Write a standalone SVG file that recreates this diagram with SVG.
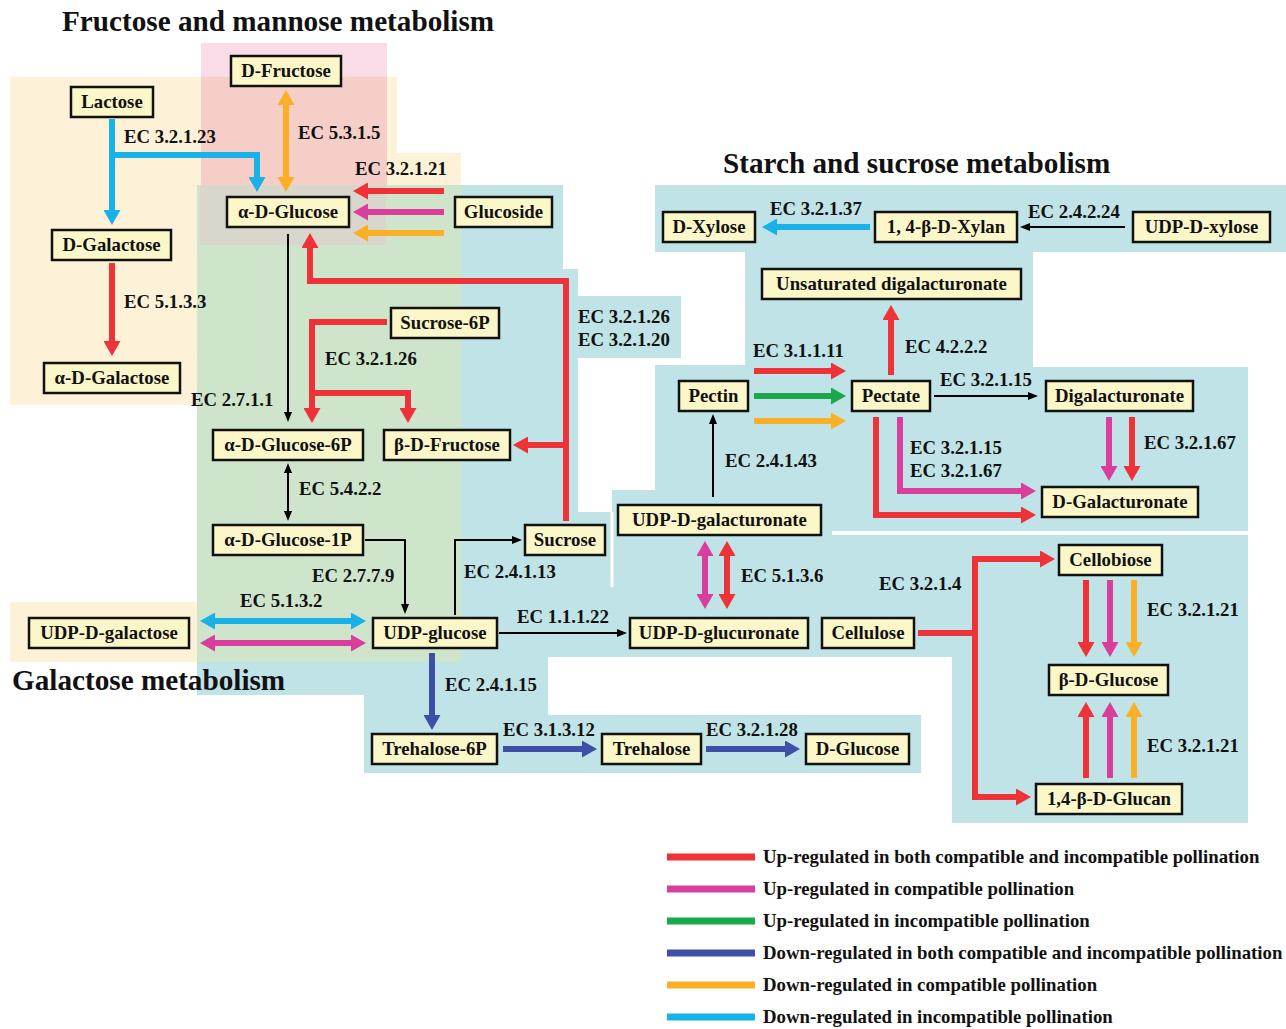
<svg xmlns="http://www.w3.org/2000/svg" width="1286" height="1029" viewBox="0 0 1286 1029">
<style>
text{font-family:"Liberation Serif","Times New Roman",serif;font-weight:bold;font-size:18.8px;fill:#111}
.node rect{fill:#FCF7C9;stroke:#111;stroke-width:2.5}
.node text{text-anchor:middle}
.title{font-size:29.2px}
.t{fill:none;stroke-width:6}
.k{fill:none;stroke:#000;stroke-width:2}
.r{stroke:#EE3238}.m{stroke:#D93E9D}.g{stroke:#1BA74B}.b{stroke:#3E4FA7}.o{stroke:#FAAF26}.c{stroke:#19B2E8}
.leg{stroke-width:7}
</style>
<defs>
<marker id="aR" viewBox="0 0 15 17" refX="3" refY="8.5" markerWidth="15" markerHeight="17" markerUnits="userSpaceOnUse" orient="auto-start-reverse"><path d="M0,0 L15,8.5 L0,17 Z" fill="#EE3238"/></marker>
<marker id="aM" viewBox="0 0 15 17" refX="3" refY="8.5" markerWidth="15" markerHeight="17" markerUnits="userSpaceOnUse" orient="auto-start-reverse"><path d="M0,0 L15,8.5 L0,17 Z" fill="#D93E9D"/></marker>
<marker id="aG" viewBox="0 0 15 17" refX="3" refY="8.5" markerWidth="15" markerHeight="17" markerUnits="userSpaceOnUse" orient="auto-start-reverse"><path d="M0,0 L15,8.5 L0,17 Z" fill="#1BA74B"/></marker>
<marker id="aB" viewBox="0 0 15 17" refX="3" refY="8.5" markerWidth="15" markerHeight="17" markerUnits="userSpaceOnUse" orient="auto-start-reverse"><path d="M0,0 L15,8.5 L0,17 Z" fill="#3E4FA7"/></marker>
<marker id="aO" viewBox="0 0 15 17" refX="3" refY="8.5" markerWidth="15" markerHeight="17" markerUnits="userSpaceOnUse" orient="auto-start-reverse"><path d="M0,0 L15,8.5 L0,17 Z" fill="#FAAF26"/></marker>
<marker id="aC" viewBox="0 0 15 17" refX="3" refY="8.5" markerWidth="15" markerHeight="17" markerUnits="userSpaceOnUse" orient="auto-start-reverse"><path d="M0,0 L15,8.5 L0,17 Z" fill="#19B2E8"/></marker>
<marker id="aK" viewBox="0 0 10 8" refX="2" refY="4" markerWidth="10" markerHeight="8" markerUnits="userSpaceOnUse" orient="auto-start-reverse"><path d="M0,0 L10,4 L0,8 Z" fill="#000"/></marker>
</defs>
<rect width="1286" height="1029" fill="#fff"/>
<g id="backgrounds">
<polygon points="10,77 397,77 397,153 461,153 461,662 10,662 10,602 197,602 197,405 10,405" fill="#FDF1D7"/>
<rect x="201" y="43" width="186" height="202" fill="#F9DCE8"/>
<polygon points="197,185 563,185 563,269 578,269 578,296 681,296 681,358 578,358 578,512 612,512 612,490 655,490 655,365 745,365 745,252 655,252 655,185 1286,185 1286,252 1033,252 1033,367 1248,367 1248,823 952,823 952,657 548,657 548,715 921,715 921,773 364,773 364,695 197,695" fill="#BFE3E6"/>
<rect x="201" y="77" width="186" height="108" fill="#F6CEC8"/>
<rect x="197" y="185" width="264" height="477" fill="#CEE5CC"/>
<rect x="200" y="185" width="186" height="60" fill="#D9D7CB"/>
<line x1="612" y1="512" x2="612" y2="587" stroke="#fff" stroke-width="3"/>
<line x1="832" y1="533" x2="1248" y2="533" stroke="#fff" stroke-width="4"/>
</g>
<g id="titles">
<text class="title" x="62" y="31">Fructose and mannose metabolism</text>
<text class="title" x="723" y="173">Starch and sucrose metabolism</text>
<text class="title" x="12" y="690">Galactose metabolism</text>
</g>
<g id="connectors">
<path class="t c" d="M112,119 V213" marker-end="url(#aC)"/>
<path class="t c" d="M112,155 H257 V180" marker-end="url(#aC)"/>
<path class="t o" d="M286,102 V180" marker-start="url(#aO)" marker-end="url(#aO)"/>
<path class="t r" d="M444,191 H365" marker-end="url(#aR)"/>
<path class="t m" d="M444,212 H365" marker-end="url(#aM)"/>
<path class="t o" d="M444,233 H365" marker-end="url(#aO)"/>
<path class="k" d="M288,234 V414" marker-end="url(#aK)"/>
<path class="t r" d="M566,521 V281 H310 V245" marker-end="url(#aR)"/>
<path class="t r" d="M566,445 H525" marker-end="url(#aR)"/>
<path class="t r" d="M387,322 H312 V411" marker-end="url(#aR)"/>
<path class="t r" d="M312,393 H408 V411" marker-end="url(#aR)"/>
<path class="t r" d="M112,263 V344" marker-end="url(#aR)"/>
<path class="k" d="M288,471 V513" marker-start="url(#aK)" marker-end="url(#aK)"/>
<path class="k" d="M365,540 H405 V606" marker-end="url(#aK)"/>
<path class="k" d="M455,615 V540 H514" marker-end="url(#aK)"/>
<path class="t c" d="M212,621 H354" marker-start="url(#aC)" marker-end="url(#aC)"/>
<path class="t m" d="M212,643 H354" marker-start="url(#aM)" marker-end="url(#aM)"/>
<path class="k" d="M499,633 H619" marker-end="url(#aK)"/>
<path class="t b" d="M432,653 V718" marker-end="url(#aB)"/>
<path class="t b" d="M503,749 H585" marker-end="url(#aB)"/>
<path class="t b" d="M706,749 H788" marker-end="url(#aB)"/>
<path class="k" d="M713,497 V422" marker-end="url(#aK)"/>
<path class="t r" d="M754,371 H834" marker-end="url(#aR)"/>
<path class="t g" d="M754,396 H834" marker-end="url(#aG)"/>
<path class="t o" d="M754,421 H834" marker-end="url(#aO)"/>
<path class="t r" d="M891,375 V317" marker-end="url(#aR)"/>
<path class="k" d="M934,396 H1030" marker-end="url(#aK)"/>
<path class="t m" d="M900,417 V491 H1024" marker-end="url(#aM)"/>
<path class="t r" d="M876,417 V515 H1024" marker-end="url(#aR)"/>
<path class="t m" d="M1109,417 V469" marker-end="url(#aM)"/>
<path class="t r" d="M1132,417 V469" marker-end="url(#aR)"/>
<path class="t m" d="M705,553 V597" marker-start="url(#aM)" marker-end="url(#aM)"/>
<path class="t r" d="M727,553 V597" marker-start="url(#aR)" marker-end="url(#aR)"/>
<path class="k" d="M1125,227 H1028" marker-end="url(#aK)"/>
<path class="t c" d="M870,227 H774" marker-end="url(#aC)"/>
<path class="t r" d="M918,633 H975 V559 H1043" marker-end="url(#aR)"/>
<path class="t r" d="M975,633 V797 H1019" marker-end="url(#aR)"/>
<path class="t r" d="M1086,580 V645" marker-end="url(#aR)"/>
<path class="t m" d="M1110,580 V645" marker-end="url(#aM)"/>
<path class="t o" d="M1134,580 V645" marker-end="url(#aO)"/>
<path class="t r" d="M1086,778 V714" marker-end="url(#aR)"/>
<path class="t m" d="M1110,778 V714" marker-end="url(#aM)"/>
<path class="t o" d="M1134,778 V714" marker-end="url(#aO)"/>
</g>
<g id="ec-labels">
<text x="124" y="143">EC 3.2.1.23</text>
<text x="298" y="139">EC 5.3.1.5</text>
<text x="355" y="175">EC 3.2.1.21</text>
<text x="124" y="308">EC 5.1.3.3</text>
<text x="325" y="365">EC 3.2.1.26</text>
<text x="578" y="323">EC 3.2.1.26</text>
<text x="578" y="346">EC 3.2.1.20</text>
<text x="191" y="406">EC 2.7.1.1</text>
<text x="299" y="495">EC 5.4.2.2</text>
<text x="312" y="582">EC 2.7.7.9</text>
<text x="464" y="578">EC 2.4.1.13</text>
<text x="240" y="607">EC 5.1.3.2</text>
<text x="517" y="623">EC 1.1.1.22</text>
<text x="445" y="691">EC 2.4.1.15</text>
<text x="503" y="736">EC 3.1.3.12</text>
<text x="706" y="736">EC 3.2.1.28</text>
<text x="770" y="215">EC 3.2.1.37</text>
<text x="1028" y="218">EC 2.4.2.24</text>
<text x="753" y="357">EC 3.1.1.11</text>
<text x="905" y="353">EC 4.2.2.2</text>
<text x="940" y="386">EC 3.2.1.15</text>
<text x="910" y="454">EC 3.2.1.15</text>
<text x="910" y="477">EC 3.2.1.67</text>
<text x="1144" y="449">EC 3.2.1.67</text>
<text x="725" y="467">EC 2.4.1.43</text>
<text x="741" y="582">EC 5.1.3.6</text>
<text x="879" y="590">EC 3.2.1.4</text>
<text x="1147" y="616">EC 3.2.1.21</text>
<text x="1147" y="752">EC 3.2.1.21</text>
</g>
<g id="n-dfructose" class="node"><rect x="231" y="56" width="110" height="30"/><text x="286" y="77">D-Fructose</text></g>
<g id="n-lactose" class="node"><rect x="71" y="87" width="82" height="30"/><text x="112" y="108">Lactose</text></g>
<g id="n-adglucose" class="node"><rect x="227" y="197" width="122" height="30"/><text x="288" y="218">α-D-Glucose</text></g>
<g id="n-glucoside" class="node"><rect x="455" y="197" width="97" height="30"/><text x="503.5" y="218">Glucoside</text></g>
<g id="n-dgalactose" class="node"><rect x="52" y="230" width="119" height="30"/><text x="111.5" y="251">D-Galactose</text></g>
<g id="n-sucrose6p" class="node"><rect x="391" y="308" width="108" height="30"/><text x="445" y="329">Sucrose-6P</text></g>
<g id="n-adgalactose" class="node"><rect x="44" y="363" width="136" height="30"/><text x="112" y="384">α-D-Galactose</text></g>
<g id="n-adglucose6p" class="node"><rect x="213" y="430" width="150" height="30"/><text x="288" y="451">α-D-Glucose-6P</text></g>
<g id="n-bdfructose" class="node"><rect x="384" y="430" width="126" height="30"/><text x="447" y="451">β-D-Fructose</text></g>
<g id="n-adglucose1p" class="node"><rect x="213" y="525" width="150" height="30"/><text x="288" y="546">α-D-Glucose-1P</text></g>
<g id="n-sucrose" class="node"><rect x="525" y="525" width="80" height="30"/><text x="565" y="546">Sucrose</text></g>
<g id="n-udpgalactose" class="node"><rect x="29" y="618" width="160" height="30"/><text x="109" y="639">UDP-D-galactose</text></g>
<g id="n-udpglucose" class="node"><rect x="373" y="618" width="124" height="30"/><text x="435" y="639">UDP-glucose</text></g>
<g id="n-trehalose6p" class="node"><rect x="372" y="734" width="125" height="30"/><text x="434.5" y="755">Trehalose-6P</text></g>
<g id="n-trehalose" class="node"><rect x="602" y="734" width="99" height="30"/><text x="651.5" y="755">Trehalose</text></g>
<g id="n-dglucose" class="node"><rect x="806" y="734" width="103" height="30"/><text x="857.5" y="755">D-Glucose</text></g>
<g id="n-dxylose" class="node"><rect x="663" y="212" width="92" height="30"/><text x="709" y="233">D-Xylose</text></g>
<g id="n-xylan" class="node"><rect x="875" y="212" width="142" height="30"/><text x="946" y="233">1, 4-β-D-Xylan</text></g>
<g id="n-udpxylose" class="node"><rect x="1133" y="212" width="137" height="30"/><text x="1201.5" y="233">UDP-D-xylose</text></g>
<g id="n-unsat" class="node"><rect x="762" y="269" width="259" height="30"/><text x="891.5" y="290">Unsaturated digalacturonate</text></g>
<g id="n-pectin" class="node"><rect x="679" y="381" width="69" height="30"/><text x="713.5" y="402">Pectin</text></g>
<g id="n-pectate" class="node"><rect x="852" y="381" width="78" height="30"/><text x="891" y="402">Pectate</text></g>
<g id="n-digal" class="node"><rect x="1046" y="381" width="147" height="30"/><text x="1119.5" y="402">Digalacturonate</text></g>
<g id="n-dgalact" class="node"><rect x="1042" y="487" width="156" height="30"/><text x="1120" y="508">D-Galacturonate</text></g>
<g id="n-udpgalact" class="node"><rect x="618" y="505" width="203" height="30"/><text x="719.5" y="526">UDP-D-galacturonate</text></g>
<g id="n-udpgluc" class="node"><rect x="630" y="618" width="178" height="30"/><text x="719" y="639">UDP-D-glucuronate</text></g>
<g id="n-cellulose" class="node"><rect x="822" y="618" width="92" height="30"/><text x="868" y="639">Cellulose</text></g>
<g id="n-cellobiose" class="node"><rect x="1059" y="545" width="103" height="30"/><text x="1110.5" y="566">Cellobiose</text></g>
<g id="n-bdglucose" class="node"><rect x="1049" y="665" width="119" height="30"/><text x="1108.5" y="686">β-D-Glucose</text></g>
<g id="n-glucan" class="node"><rect x="1036" y="784" width="146" height="30"/><text x="1109" y="805">1,4-β-D-Glucan</text></g>
<g id="legend">
<line class="leg r" x1="667" y1="857" x2="755" y2="857"/>
<line class="leg m" x1="667" y1="889" x2="755" y2="889"/>
<line class="leg g" x1="667" y1="921" x2="755" y2="921"/>
<line class="leg b" x1="667" y1="953" x2="755" y2="953"/>
<line class="leg o" x1="667" y1="985" x2="755" y2="985"/>
<line class="leg c" x1="667" y1="1017" x2="755" y2="1017"/>
<text x="763" y="863">Up-regulated in both compatible and incompatible pollination</text>
<text x="763" y="895">Up-regulated in compatible pollination</text>
<text x="763" y="927">Up-regulated in incompatible pollination</text>
<text x="763" y="959">Down-regulated in both compatible and incompatible pollination</text>
<text x="763" y="991">Down-regulated in compatible pollination</text>
<text x="763" y="1023">Down-regulated in incompatible pollination</text>
</g>
</svg>
